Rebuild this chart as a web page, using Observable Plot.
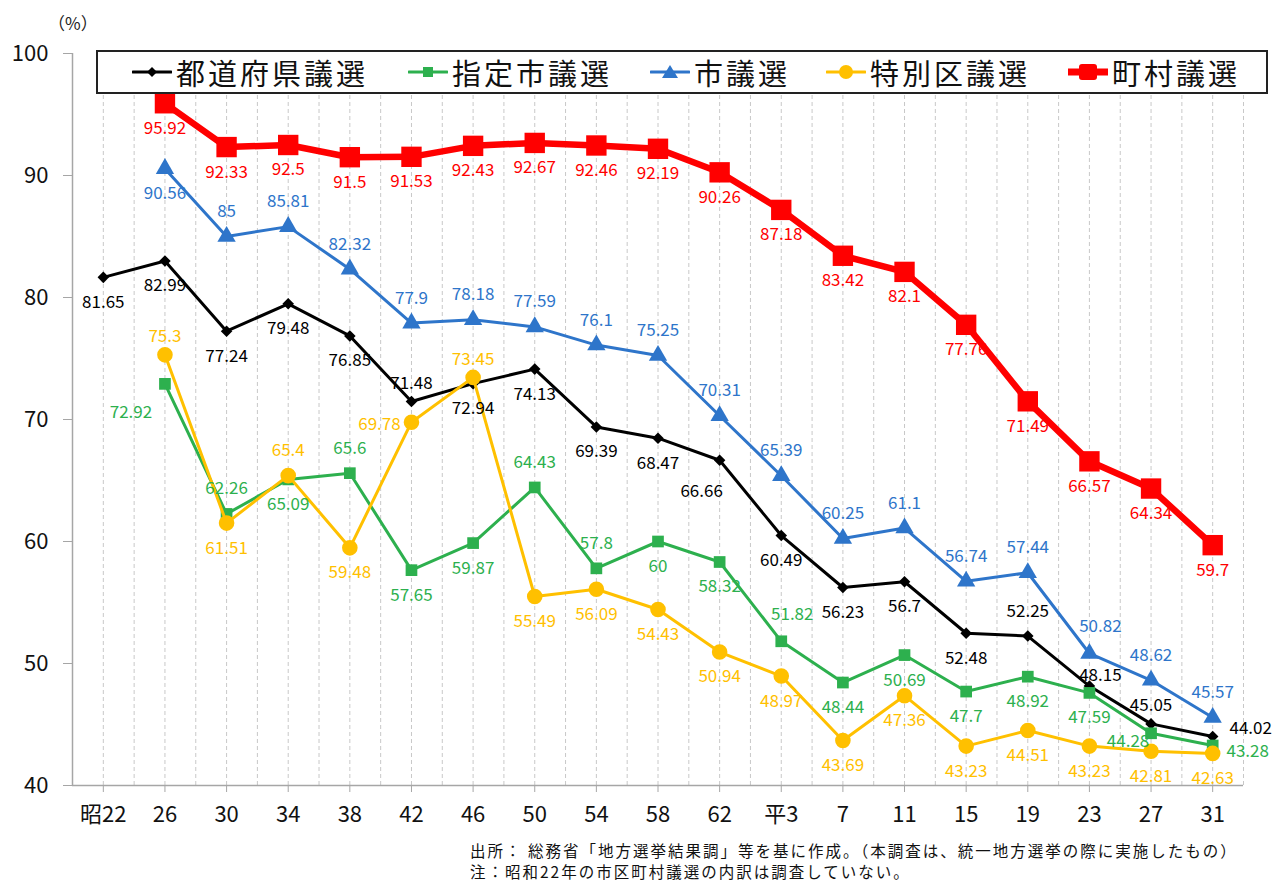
<!DOCTYPE html>
<html><head><meta charset="utf-8">
<script src="https://cdn.jsdelivr.net/npm/d3@7"></script>
<script src="https://cdn.jsdelivr.net/npm/@observablehq/plot@0.6"></script>
<style>
body{margin:0;background:#fff;font-family:"Noto Sans CJK JP","Noto Sans",sans-serif;}
#wrap{position:relative;width:1277px;height:882px;overflow:hidden;background:#fff;}
#chart{position:absolute;left:0;top:0;}
.unit{position:absolute;left:48px;top:10px;font-size:17px;color:#222;}
.legend{position:absolute;left:96px;top:50px;width:1168px;height:40px;border:2px solid #222;background:#fff;}
.item{position:absolute;top:0;height:40px;display:flex;align-items:center;font-size:29px;letter-spacing:3px;color:#111;white-space:nowrap;}
.item svg{margin-right:4px;}
.note{position:absolute;left:470px;top:840px;font-size:15.5px;letter-spacing:2px;line-height:20.5px;color:#111;white-space:nowrap;}
</style></head>
<body>
<div id="wrap">
  <div id="chart"></div>
  <div class="unit">（%）</div>
  <div class="legend" id="legend"></div>
  <div class="note">出所： 総務省「地方選挙結果調」等を基に作成。（本調査は、統一地方選挙の際に実施したもの）<br>注：昭和22年の市区町村議選の内訳は調査していない。</div>
</div>
<script>
// ---- data ----
const xLabels = ["昭22","26","30","34","38","42","46","50","54","58","62","平3","7","11","15","19","23","27","31"];
const seriesNames = ["都道府県議選","指定市議選","市議選","特別区議選","町村議選"];
const prefVals = [81.65,82.99,77.24,79.48,76.85,71.48,72.94,74.13,69.39,68.47,66.66,60.49,56.23,56.7,52.48,52.25,48.15,45.05,44.02];
const designatedVals = [null,72.92,62.26,65.09,65.6,57.65,59.87,64.43,57.8,60,58.32,51.82,48.44,50.69,47.7,48.92,47.59,44.28,43.28];
const cityVals = [null,90.56,85,85.81,82.32,77.9,78.18,77.59,76.1,75.25,70.31,65.39,60.25,61.1,56.74,57.44,50.82,48.62,45.57];
const wardVals = [null,75.3,61.51,65.4,59.48,69.78,73.45,55.49,56.09,54.43,50.94,48.97,43.69,47.36,43.23,44.51,43.23,42.81,42.63];
const townVals = [null,95.92,92.33,92.5,91.5,91.53,92.43,92.67,92.46,92.19,90.26,87.18,83.42,82.1,77.76,71.49,66.57,64.34,59.7];
const yTicks = [40,50,60,70,80,90,100];

// ---- label placement codes (a = above, b = below, l/r = side) ----
const prefPos = ["b","b","b","b","b","a2","b","b","b","b","bl","b","b","b","b","a","ar2","a2","rt"];
const designatedPos = [null,"lb","a","b","a","b","b","a","a","b","b","ar","b","b","b","b","b","l","r"];
const cityPos = [null,"b","a","a","a","a","a","a","a","a","a","a","a","a","a","a","ar","a","a"];
const wardPos = [null,"a2","b","a","b","lw","a2","b","b","b","b","b","b","b","b","b","b","b","b"];
const townPos = [null,"b","b","b","b","b","b","b","b","b","b","b","b","b","b","b","b","b","b"];
const offsets = {b:[0,25],a:[0,-25],a2:[0,-18],bl:[-18,31],ar:[11,-27],ar2:[11,-11],rt:[38,-8],lb:[-34,29],l:[-23,8],r:[35,6],lw:[-32,2]};

const styles = [
  {color:"#000000", symbol:"diamond2", r:5.2, sw:3, values:prefVals, pos:prefPos},
  {color:"#2DB04E", symbol:"square", r:6.6, sw:3, values:designatedVals, pos:designatedPos},
  {color:"#2E75CA", symbol:"triangle", r:6.8, sw:3, values:cityVals, pos:cityPos},
  {color:"#FFC000", symbol:"circle", r:7.8, sw:3, values:wardVals, pos:wardPos},
  {color:"#FF0000", symbol:"square", r:11.5, sw:6.5, values:townVals, pos:townPos}
];

const rowsOf = s => s.values.map((v,i)=>({i, v, pos:s.pos[i]})).filter(d=>d.v!=null);

const marks = [
  Plot.ruleX(d3.range(0, 19, 0.5), {stroke:"#c8c8c8", strokeDasharray:"4,3", strokeWidth:1}),
  Plot.ruleX([-0.5], {stroke:"#a6a6a6", strokeWidth:1.5}),
  Plot.ruleY([40], {stroke:"#a6a6a6", strokeWidth:1.5}),
  Plot.axisY({ticks:yTicks, tickSize:9, tickPadding:15, fontSize:22, label:null, stroke:"#a6a6a6", fill:"#111"}),
  Plot.axisX({ticks:d3.range(19), tickFormat:i=>xLabels[i], tickSize:7, tickPadding:14, fontSize:22, label:null, stroke:"#a6a6a6", fill:"#111"})
];
styles.forEach(s=>{
  const rows = rowsOf(s);
  marks.push(Plot.line(rows, {x:"i", y:"v", stroke:s.color, strokeWidth:s.sw, strokeLinejoin:"round"}));
  marks.push(Plot.dot(rows, {x:"i", y:"v", symbol:()=>s.symbol, r:s.r, fill:s.color, stroke:"none"}));
});
styles.forEach(s=>{
  const rows = rowsOf(s);
  Object.entries(offsets).forEach(([code,[dx,dy]])=>{
    const sub = rows.filter(d=>d.pos===code);
    if (sub.length) marks.push(Plot.text(sub, {x:"i", y:"v", text:d=>String(d.v), dx, dy, fill:s.color, fontSize:17}));
  });
});

const chart = Plot.plot({
  width:1277, height:882,
  marginLeft:72, marginRight:34, marginTop:53, marginBottom:97,
  style:{fontFamily:'"Noto Sans CJK JP","Noto Sans",sans-serif', background:"transparent", overflow:"visible"},
  x:{type:"linear", domain:[-0.5,18.5]},
  y:{domain:[40,100]},
  marks
});
document.getElementById("chart").appendChild(chart);

// ---- legend ----
const legendX = [132,408,650,826,1068];
const lg = document.getElementById("legend");
styles.forEach((s,k)=>{
  const it = document.createElement("div");
  it.className = "item";
  it.style.left = (legendX[k]-98) + "px";
  const w = 40, h = 26, cx = 20, cy = 13;
  let marker = "";
  const big = k===4;
  if (s.symbol==="circle") marker = `<circle cx="${cx}" cy="${cy}" r="7" fill="${s.color}"/>`;
  else if (s.symbol==="square") { const a = big?18:10; marker = `<rect x="${cx-a/2}" y="${cy-(big?8:5)}" width="${a}" height="${big?16:10}" rx="${big?3:0}" fill="${s.color}"/>`; }
  else if (s.symbol==="triangle") marker = `<path d="M${cx},${cy-7}L${cx+8},${cy+6}L${cx-8},${cy+6}Z" fill="${s.color}"/>`;
  else marker = `<path d="M${cx},${cy-5}L${cx+5},${cy}L${cx},${cy+5}L${cx-5},${cy}Z" fill="${s.color}"/>`;
  it.innerHTML = `<svg width="${w}" height="${h}"><line x1="1" x2="${w-1}" y1="${cy}" y2="${cy}" stroke="${s.color}" stroke-width="${big?7:3}" stroke-linecap="round"/>${marker}</svg><span>${seriesNames[k]}</span>`;
  lg.appendChild(it);
});
</script>
</body></html>
